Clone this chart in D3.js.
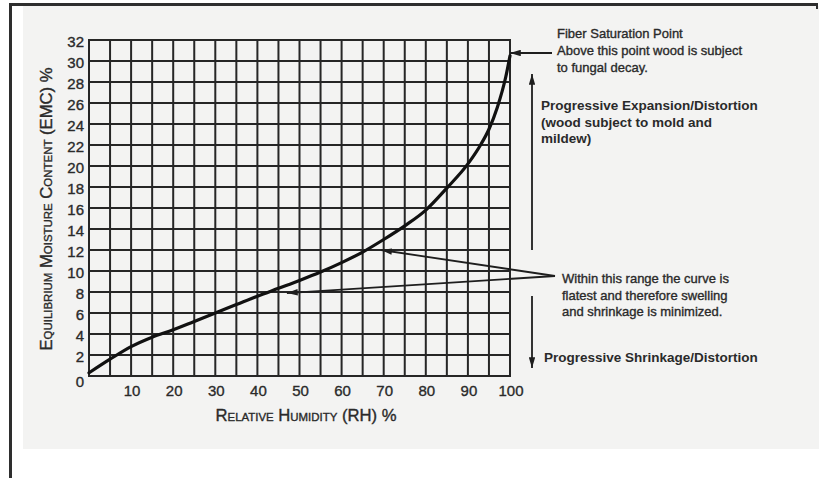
<!DOCTYPE html>
<html>
<head>
<meta charset="utf-8">
<script src="https://cdn.jsdelivr.net/npm/d3@7/dist/d3.min.js"></script>
<style>
html,body{margin:0;padding:0;background:#fff;}
svg{display:block;}
text{font-family:"Liberation Sans",Arial,Helvetica,sans-serif;fill:#2a2a2a;}
text.thick{stroke:#2a2a2a;stroke-width:0.35px;}
</style>
</head>
<body>
<svg id="chart" width="819" height="478"></svg>
<script>
// ---- data ----
const rh  = [0, 5, 10, 15, 20, 25, 30, 35, 40, 45, 50, 55, 60, 65, 70, 75, 80, 85, 90, 93, 95, 97, 99, 100];
const emc = [0.3, 1.6, 2.8, 3.7, 4.4, 5.2, 6.0, 6.8, 7.6, 8.35, 9.1, 9.9, 10.8, 11.8, 13.0, 14.3, 15.8, 17.9, 20.2, 22.0, 23.5, 25.6, 28.5, 30.5];
const xTickLabels = [10, 20, 30, 40, 50, 60, 70, 80, 90, 100];
const yTickLabels = [0, 2, 4, 6, 8, 10, 12, 14, 16, 18, 20, 22, 24, 26, 28, 30, 32];
const xGrid = [0, 5, 10, 15, 20, 25, 30, 35, 40, 45, 50, 55, 60, 65, 70, 75, 80, 85, 90, 95, 100];
const xTitle = "Relative Humidity (RH) %";
const yTitle = "Equilibrium Moisture Content (EMC) %";
const fiberNote = ["Fiber Saturation Point", "Above this point wood is subject", "to fungal decay."];
const expansionNote = ["Progressive Expansion/Distortion", "(wood subject to mold and", "mildew)"];
const flatNote = ["Within this range the curve is", "flatest and therefore swelling", "and shrinkage is minimized."];
const shrinkNote = "Progressive Shrinkage/Distortion";
// points the "flatest range" arrows indicate (RH, EMC)
const flatTargets = [[69.4, 12.0], [47, 7.9]];

// ---- layout ----
const svg = d3.select("#chart");
const x = d3.scaleLinear().domain([0, 100]).range([89, 510]);
const y = d3.scaleLinear().domain([0, 32]).range([376, 40]);

// frame & background
svg.append("rect").attr("x", 23).attr("y", 6).attr("width", 796).attr("height", 443).attr("fill", "#f3f3f2");
svg.append("rect").attr("x", 9).attr("y", 3).attr("width", 3).attr("height", 475).attr("fill", "#2e2e2e");
svg.append("rect").attr("x", 9).attr("y", 3).attr("width", 809).attr("height", 3).attr("fill", "#2e2e2e");
svg.append("rect").attr("x", 816).attr("y", 3).attr("width", 2).attr("height", 6).attr("fill", "#2e2e2e");

// arrow marker
const defs = svg.append("defs");
defs.append("marker").attr("id", "ah").attr("viewBox", "0 0 10 6")
  .attr("refX", 10).attr("refY", 3).attr("markerWidth", 11).attr("markerHeight", 6.5)
  .attr("markerUnits", "userSpaceOnUse").attr("orient", "auto")
  .append("path").attr("d", "M0,0 L10,3 L0,6 Z").attr("fill", "#1e1e1e");

// grid
const g = svg.append("g");
g.selectAll("line.vx").data(xGrid).join("line")
  .attr("x1", d => x(d)).attr("x2", d => x(d)).attr("y1", y(0)).attr("y2", y(32))
  .attr("stroke", "#262626").attr("stroke-width", 2);
g.selectAll("line.hy").data(yTickLabels).join("line")
  .attr("x1", x(0) - 1).attr("x2", x(100) + 1).attr("y1", d => y(d)).attr("y2", d => y(d))
  .attr("stroke", "#262626").attr("stroke-width", 2);

// tick labels
g.selectAll("text.yt").data(yTickLabels).join("text").attr("class", "thick")
  .attr("x", 84).attr("y", d => y(d) + (d === 0 ? 6 : 1.5)).attr("dy", "0.35em")
  .attr("text-anchor", "end").attr("font-size", 15).text(d => d);
g.selectAll("text.xt").data(xTickLabels).join("text").attr("class", "thick")
  .attr("x", d => x(d) + 1).attr("y", 396)
  .attr("text-anchor", "middle").attr("font-size", 15).text(d => d);

// axis titles
svg.append("text").attr("class", "thick").attr("x", 306).attr("y", 421).attr("text-anchor", "middle")
  .attr("font-size", 16).style("font-variant", "small-caps")
  .attr("textLength", 181).attr("lengthAdjust", "spacingAndGlyphs").text(xTitle);
svg.append("text").attr("class", "thick").attr("transform", "translate(52,209) rotate(-90)").attr("text-anchor", "middle")
  .attr("font-size", 16).style("font-variant", "small-caps")
  .attr("textLength", 283).attr("lengthAdjust", "spacingAndGlyphs").text(yTitle);

// curve
const pts = rh.map((d, i) => [d, emc[i]]);
svg.append("path").datum(pts)
  .attr("d", d3.line().x(d => x(d[0])).y(d => y(d[1])).curve(d3.curveMonotoneX))
  .attr("fill", "none").attr("stroke", "#111").attr("stroke-width", 3.2).attr("stroke-linecap", "round");

// annotations
const a = svg.append("g").attr("stroke", "#1e1e1e").attr("stroke-width", 1.8);
a.append("line").attr("x1", 552).attr("y1", 53).attr("x2", x(100)).attr("y2", 53).attr("marker-end", "url(#ah)");
a.append("line").attr("x1", 532).attr("y1", 250).attr("x2", 532).attr("y2", 74).attr("marker-end", "url(#ah)");
a.append("line").attr("x1", 532).attr("y1", 296).attr("x2", 532).attr("y2", 368).attr("marker-end", "url(#ah)");
a.selectAll("line.ft").data(flatTargets).join("line")
  .attr("x1", 555).attr("y1", 276).attr("x2", d => x(d[0])).attr("y2", d => y(d[1]))
  .attr("marker-end", "url(#ah)");

svg.selectAll("text.fn").data(fiberNote).join("text").attr("class", "thick")
  .attr("x", 557).attr("y", (d, i) => 38 + i * 17).attr("font-size", 13).text(d => d);
svg.selectAll("text.en").data(expansionNote).join("text")
  .attr("x", 541).attr("y", (d, i) => 110 + i * 16.5).attr("font-size", 13.5).attr("font-weight", "bold").text(d => d);
svg.selectAll("text.wn").data(flatNote).join("text").attr("class", "thick")
  .attr("x", 562).attr("y", (d, i) => 283 + i * 16.7).attr("font-size", 13).text(d => d);
svg.append("text").attr("x", 544).attr("y", 362).attr("font-size", 13.5).attr("font-weight", "bold").text(shrinkNote);
</script>
</body>
</html>
